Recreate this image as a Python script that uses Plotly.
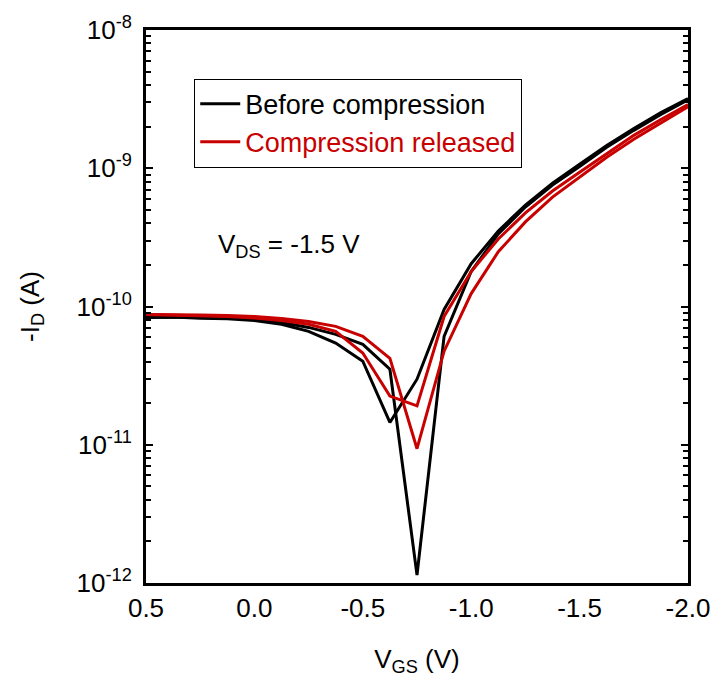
import plotly.graph_objects as go

vgs = [0.5, 0.375, 0.25, 0.125, 0.0, -0.125, -0.25, -0.375, -0.5, -0.625, -0.75,
       -0.875, -1.0, -1.125, -1.25, -1.375, -1.5, -1.625, -1.75, -1.875, -2.0]

before_a = [8.33e-11, 8.40e-11, 8.23e-11, 8.16e-11, 7.93e-11, 7.43e-11, 6.61e-11, 5.44e-11,
            4.02e-11, 1.45e-11, 2.98e-11, 9.51e-11, 2.04e-10, 3.52e-10, 5.42e-10, 7.80e-10,
            1.07e-9, 1.46e-9, 1.94e-9, 2.53e-9, 3.19e-9]
before_b = [8.33e-11, 8.40e-11, 8.33e-11, 8.26e-11, 8.06e-11, 7.67e-11, 7.06e-11, 6.29e-11,
            5.33e-11, 3.52e-11, 1.14e-12, 6.08e-11, 1.79e-10, 3.35e-10, 5.24e-10, 7.55e-10,
            1.03e-9, 1.42e-9, 1.88e-9, 2.45e-9, 3.13e-9]
released_a = [8.75e-11, 8.68e-11, 8.61e-11, 8.47e-11, 8.26e-11, 7.93e-11, 7.43e-11, 6.61e-11,
              4.61e-11, 2.25e-11, 1.91e-11, 8.47e-11, 1.79e-10, 3.08e-10, 4.75e-10, 6.84e-10,
              9.36e-10, 1.28e-9, 1.73e-9, 2.25e-9, 2.89e-9]
released_b = [8.75e-11, 8.75e-11, 8.68e-11, 8.61e-11, 8.47e-11, 8.20e-11, 7.80e-11, 7.18e-11,
              6.08e-11, 4.22e-11, 9.36e-12, 4.75e-11, 1.24e-10, 2.49e-10, 4.09e-10, 6.18e-10,
              8.62e-10, 1.20e-9, 1.62e-9, 2.14e-9, 2.79e-9]

y_major = [1e-12, 1e-11, 1e-10, 1e-9, 1e-8]
y_labels = ["10<sup>-12</sup>", "10<sup>-11</sup>", "10<sup>-10</sup>", "10<sup>-9</sup>", "10<sup>-8</sup>"]
y_minor = [m * d for d in [1e-12, 1e-11, 1e-10, 1e-9] for m in range(2, 10)]
x_ticks = [0.5, 0.0, -0.5, -1.0, -1.5, -2.0]
x_labels = ["0.5", "0.0", "-0.5", "-1.0", "-1.5", "-2.0"]

BLACK = "#000000"
RED = "#c80000"
FONT = "Liberation Sans, Arial, sans-serif"
FS = 26

fig = go.Figure()
fig.add_trace(go.Scatter(x=vgs, y=before_a, mode="lines", line=dict(color=BLACK, width=3),
                         name="Before compression", showlegend=True))
fig.add_trace(go.Scatter(x=vgs, y=before_b, mode="lines", line=dict(color=BLACK, width=3),
                         name="Before compression", showlegend=False))
fig.add_trace(go.Scatter(x=vgs, y=released_a, mode="lines", line=dict(color=RED, width=3),
                         name=f'<span style="color:{RED}">Compression released</span>', showlegend=True))
fig.add_trace(go.Scatter(x=vgs, y=released_b, mode="lines", line=dict(color=RED, width=3),
                         name="Compression released", showlegend=False))

fig.update_layout(
    width=722, height=691,
    margin=dict(l=146, r=27, t=27, b=108),
    paper_bgcolor="white", plot_bgcolor="white",
    font=dict(family=FONT, size=FS, color="black"),
    showlegend=True,
    legend=dict(x=0.089, y=0.912, xanchor="left", yanchor="top",
                bordercolor="black", borderwidth=1, bgcolor="white",
                font=dict(size=FS + 1, family=FONT), tracegroupgap=0, itemwidth=40),
    xaxis=dict(range=[0.5, -2.0], tickvals=x_ticks, ticktext=x_labels, ticks="",
               showline=True, linecolor="black", linewidth=3, mirror=True,
               showgrid=False, zeroline=False, tickfont=dict(size=FS),
               title=dict(text="V<sub>GS</sub> (V)", font=dict(size=FS), standoff=28)),
    yaxis=dict(type="log", range=[-12, -8], tickvals=y_major, ticktext=y_labels,
               ticks="inside", ticklen=7, tickwidth=2, tickcolor="black",
               ticklabelstandoff=6,
               minor=dict(tickvals=y_minor, ticks="inside", ticklen=5, tickwidth=2, tickcolor="black"),
               showline=True, linecolor="black", linewidth=3, mirror="ticks",
               showgrid=False, zeroline=False, tickfont=dict(size=FS),
               title=dict(text="-I<sub>D</sub> (A)", font=dict(size=FS), standoff=30)),
    annotations=[dict(x=0.13, y=0.61, xref="paper", yref="paper", xanchor="left", yanchor="middle",
                      text="V<sub>DS</sub> = -1.5 V", showarrow=False, font=dict(size=FS, family=FONT))],
)

fig.write_html("out.html")
